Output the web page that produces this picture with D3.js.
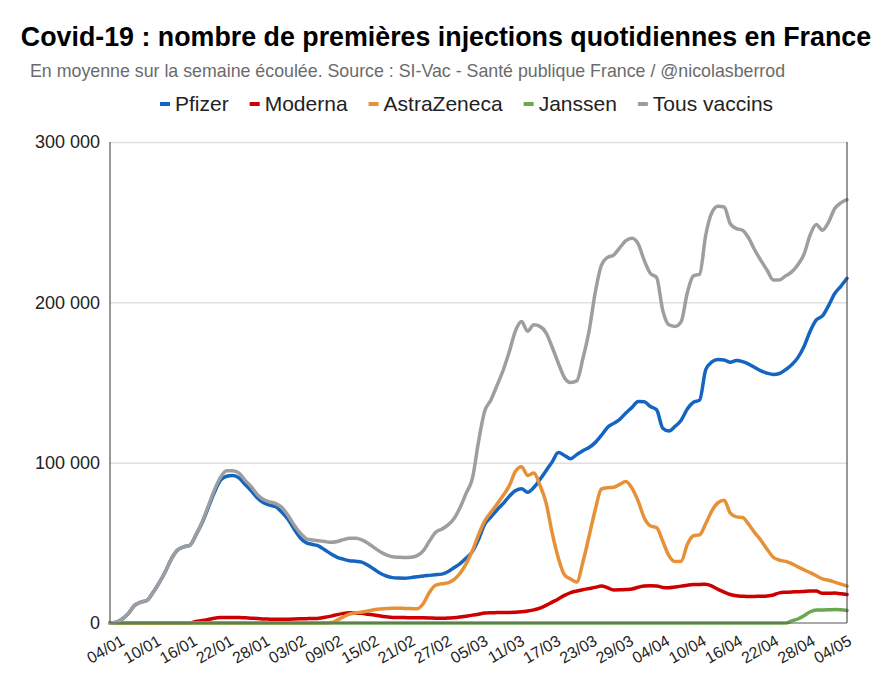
<!DOCTYPE html>
<html>
<head>
<meta charset="utf-8">
<script src="https://cdn.jsdelivr.net/npm/d3@7"></script>
<style>
body { margin: 0; background: #fff; }
svg { font-family: "Liberation Sans", Arial, sans-serif; }
</style>
</head>
<body>
<script>
// daily values, 04/01 -> 04/05 (7-day average of first doses)
var pfizer = [0,500,2500,6000,11000,13000,14000,19000,25000,32000,
  40000,45500,47500,48500,55000,62500,72000,81500,89000,91500,
  92000,90500,86500,82500,78000,75000,73500,72500,69000,64500,
  58500,53000,50000,49000,48000,45500,43000,41000,39800,38800,
  38500,38000,36000,33500,31000,29300,28300,28000,27900,28300,
  28800,29300,29700,30100,30500,32000,34500,37000,40500,44500,
  52000,61500,66000,70500,74500,79000,82500,83800,81500,84500,
  89500,95000,100500,106300,104500,102500,105000,107500,109500,112500,
  117000,122000,124500,127000,131000,134500,138200,138000,135000,133000,
  121500,119700,122600,126500,133500,137700,139000,158000,162800,164300,
  164000,162700,163700,163000,161500,159300,157200,155800,155000,155600,
  158000,161000,165500,172500,182000,189000,191500,198000,205500,210000,215000];

var moderna = [0,0,0,0,0,0,0,0,0,0,
  0,0,0,0,1000,1500,2200,3000,3400,3500,
  3500,3400,3200,3000,2800,2500,2400,2300,2300,2400,
  2500,2600,2700,2800,3000,3600,4300,5200,6000,6400,
  6300,6000,5500,5000,4400,3900,3500,3400,3400,3300,
  3300,3200,3100,3000,2900,3100,3300,3700,4200,4900,
  5500,6200,6400,6500,6600,6600,6700,7000,7500,8200,
  9300,11000,13000,15000,17200,19000,20000,20800,21500,22200,
  23000,22000,20600,20700,20900,21200,22300,23100,23200,23100,
  22200,22000,22500,23000,23600,24000,24000,24200,23000,21000,
  19300,17800,17000,16700,16500,16600,16700,16900,17500,18800,
  19200,19400,19500,19700,19900,19900,18500,18500,18700,18200,17800];

var astrazeneca = [0,0,0,0,0,0,0,0,0,0,
  0,0,0,0,0,0,0,0,0,0,
  0,0,0,0,0,0,0,0,0,0,
  0,0,0,0,0,0,300,1800,3800,5500,
  6400,6800,7500,8300,8800,9000,9200,9200,9100,9000,
  8900,12000,19000,23500,24500,25000,27000,31000,37000,45000,
  55000,63500,69000,74000,79500,85500,94500,97500,92000,93500,
  86000,75000,56000,40500,30000,27500,25500,38000,54000,70500,
  83500,84400,84600,86500,88300,84000,76000,65500,60500,59500,
  51000,42000,38300,38500,49000,54400,55000,62000,70000,75000,
  76500,68500,66200,65800,61500,56200,51500,46000,41000,39200,
  38400,37000,35000,33200,31400,29500,27500,26700,25500,24200,23000];

var janssen = [0,0,0,0,0,0,0,0,0,0,
  0,0,0,0,0,0,0,0,0,0,
  0,0,0,0,0,0,0,0,0,0,
  0,0,0,0,0,0,0,0,0,0,
  0,0,0,0,0,0,0,0,0,0,
  0,0,0,0,0,0,0,0,0,0,
  0,0,0,0,0,0,0,0,0,0,
  0,0,0,0,0,0,0,0,0,0,
  0,0,0,0,0,0,0,0,0,0,
  0,0,0,0,0,0,0,0,0,0,
  0,0,0,0,0,0,0,0,0,0,
  0,1300,2500,4500,7000,8100,8100,8200,8400,8200,7800];

var tous = [0,500,2500,6000,11000,13000,14000,19000,25000,32000,
  40000,45500,47500,48500,55000,63000,73000,83000,91000,95000,
  95000,93500,89000,85000,80000,77000,75500,74500,72000,67000,
  61000,56000,52500,51800,51300,50800,50300,50800,52000,52800,
  52800,51900,49800,47000,44500,42500,41300,41000,40800,41000,
  42000,45000,51000,56500,58500,61000,65000,72000,81000,90000,
  113000,132000,139000,148000,157500,169000,182000,188000,182000,186000,
  185000,181000,172000,162000,153000,150000,151000,165000,182000,206000,
  223000,228000,229500,234000,238500,240000,236500,226000,218000,215500,
  195000,186000,185000,188000,206000,216500,217500,242000,256000,260000,
  259500,249000,246000,245000,240000,232500,226000,220000,214000,214000,
  216500,219000,223500,230000,242000,248500,245000,250000,258500,262000,264000];

var seriesNames = ["Pfizer", "Moderna", "AstraZeneca", "Janssen", "Tous vaccins"];
var seriesData = [pfizer, moderna, astrazeneca, janssen, tous];
var colors = ["#1565c0", "#cc0000", "#e69138", "#6aa84f", "#9e9e9e"];

var xTickDays = [0,6,12,18,24,30,36,42,48,54,60,66,72,78,84,90,96,102,108,114,120];
var xTickLabels = ["04/01","10/01","16/01","22/01","28/01","03/02","09/02","15/02","21/02","27/02",
  "05/03","11/03","17/03","23/03","29/03","04/04","10/04","16/04","22/04","28/04","04/05"];
var yTicks = [0, 100000, 200000, 300000];
var yTickLabels = ["0", "100 000", "200 000", "300 000"];

var width = 889, height = 679;
var plotLeft = 110, plotRight = 847, plotTop = 142, plotBottom = 623;

var svg = d3.select("body").append("svg").attr("width", width).attr("height", height);

var x = d3.scaleLinear().domain([0, 120]).range([plotLeft, plotRight]);
var xLab = d3.scaleLinear().domain([0, 120]).range([plotLeft + 10, plotRight]);
var y = d3.scaleLinear().domain([0, 300000]).range([plotBottom, plotTop]);

// title
svg.append("text").attr("x", 446).attr("y", 46).attr("text-anchor", "middle")
  .attr("font-size", 26.8).attr("font-weight", "bold").attr("fill", "#000")
  .text("Covid-19 : nombre de premières injections quotidiennes en France");
svg.append("text").attr("x", 30).attr("y", 77)
  .attr("font-size", 17.8).attr("fill", "#6b6b6b")
  .text("En moyenne sur la semaine écoulée. Source : SI-Vac - Santé publique France / @nicolasberrod");

// legend
var lx = 160;
var legend = svg.append("g");
seriesNames.forEach(function(name, i) {
  legend.append("rect").attr("x", lx).attr("y", 102).attr("width", 10).attr("height", 4)
    .attr("fill", colors[i]);
  var t = legend.append("text").attr("x", lx + 15).attr("y", 111)
    .attr("font-size", 21).attr("fill", "#222").text(name);
  lx += 15 + t.node().getComputedTextLength() + 21;
});

// gridlines
svg.append("g").attr("transform", "translate(" + plotLeft + ",0)")
  .call(d3.axisLeft(y).tickValues(yTicks.slice(1)).tickSize(-(plotRight - plotLeft)).tickFormat(""))
  .call(function(g) { g.select(".domain").remove(); })
  .selectAll("line").attr("stroke", "#e0e0e0").attr("stroke-width", 1.5);

// lines
var line = d3.line().x(function(d, i) { return x(i); }).y(function(d) { return y(d); })
  .curve(d3.curveMonotoneX);
svg.selectAll("path.serie")
  .data(seriesData)
  .enter().append("path")
    .attr("class", "serie")
    .attr("d", line)
    .attr("fill", "none")
    .attr("stroke", function(d, i) { return colors[i]; })
    .attr("stroke-width", 3.5)
    .attr("stroke-linejoin", "round")
    .attr("stroke-linecap", "round");

// axes frame
svg.append("line").attr("x1", plotLeft).attr("x2", plotLeft).attr("y1", plotTop).attr("y2", plotBottom)
  .attr("stroke", "#333").attr("stroke-width", 1);
svg.append("line").attr("x1", plotRight).attr("x2", plotRight).attr("y1", plotTop).attr("y2", plotBottom)
  .attr("stroke", "#333").attr("stroke-width", 1);
svg.append("line").attr("x1", plotLeft).attr("x2", plotRight).attr("y1", plotBottom).attr("y2", plotBottom)
  .attr("stroke", "#555").attr("stroke-width", 1);

// y axis labels
svg.append("g").attr("transform", "translate(" + plotLeft + ",0)")
  .call(d3.axisLeft(y).tickValues(yTicks).tickSize(0).tickPadding(10)
    .tickFormat(function(d, i) { return yTickLabels[i]; }))
  .call(function(g) { g.select(".domain").remove(); })
  .selectAll("text").attr("font-size", 18).attr("fill", "#222")
  .attr("font-family", "Liberation Sans, Arial, sans-serif");

// x axis labels
svg.append("g").selectAll("text")
  .data(xTickDays)
  .enter().append("text")
    .attr("transform", function(d) { return "translate(" + xLab(d) + ",634) rotate(-30)"; })
    .attr("text-anchor", "end")
    .attr("dy", "0.72em")
    .attr("font-size", 16)
    .attr("fill", "#222")
    .text(function(d, i) { return xTickLabels[i]; });
</script>
</body>
</html>
